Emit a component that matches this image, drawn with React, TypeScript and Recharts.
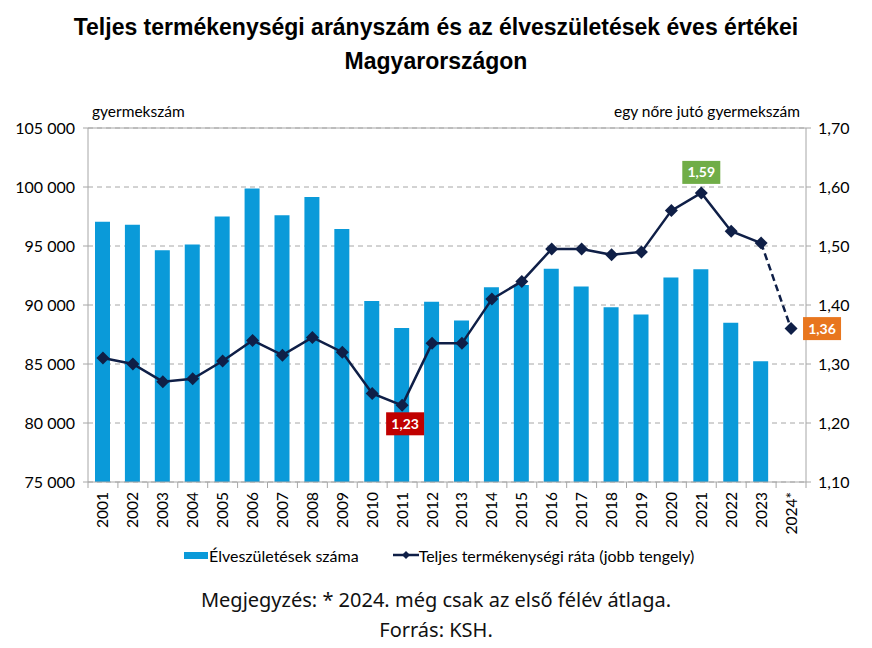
import React from "react";
import {
  ComposedChart,
  Bar,
  Line,
  XAxis,
  YAxis,
  CartesianGrid,
  ReferenceLine,
} from "recharts";

// years on the x axis (2024 = first half-year average only)
const years = [
  "2001", "2002", "2003", "2004", "2005", "2006", "2007", "2008", "2009", "2010",
  "2011", "2012", "2013", "2014", "2015", "2016", "2017", "2018", "2019", "2020",
  "2021", "2022", "2023", "2024*",
];

// live births per year (left axis)
const births = [
  97047, 96804, 94647, 95137, 97496, 99871, 97613, 99149, 96442, 90335,
  88049, 90269, 88689, 91510, 91690, 93063, 91577, 89807, 89193, 92338,
  93039, 88491, 85226, null,
];

// total fertility rate (right axis)
const tfr = [
  1.31, 1.3, 1.27, 1.275, 1.305, 1.34, 1.315, 1.345, 1.32, 1.25,
  1.23, 1.335, 1.335, 1.41, 1.44, 1.495, 1.495, 1.485, 1.49, 1.56,
  1.59, 1.525, 1.505, 1.36,
];

const leftTicks = [75000, 80000, 85000, 90000, 95000, 100000, 105000];
const rightTicks = [1.1, 1.2, 1.3, 1.4, 1.5, 1.6, 1.7];

// highlighted values
const callouts: Record<string, { text: string; color: string }> = {
  "2011": { text: "1,23", color: "#C00000" },
  "2021": { text: "1,59", color: "#70AD47" },
  "2024*": { text: "1,36", color: "#E8761E" },
};

const lastSolid = years.length - 2;

const data = years.map((year, i) => ({
  year,
  births: births[i],
  tfrSolid: i <= lastSolid ? tfr[i] : null,
  tfrDashed: i >= lastSolid ? tfr[i] : null,
}));

const PLOT_LEFT = 88;
const PLOT_RIGHT = 806;
const STEP = (PLOT_RIGHT - PLOT_LEFT) / years.length;

const NAVY = "#0F1F47";
const BLUE = "#0A9AD9";
const GRID = "#A6A6A6";
const FONT = "Lato, 'Open Sans', sans-serif";

const fmtLeft = (v: number) =>
  v.toString().replace(/\B(?=(\d{3})+(?!\d))/g, " ");
const fmtRight = (v: number) => v.toFixed(2).replace(".", ",");

const Diamond = (cx: number, cy: number, key: string) => (
  <path
    key={key}
    d={`M${cx},${cy - 6.5} L${cx + 6.5},${cy} L${cx},${cy + 6.5} L${cx - 6.5},${cy} Z`}
    fill={NAVY}
  />
);

const Callout = (cx: number, cy: number, year: string) => {
  const c = callouts[year];
  if (!c) return null;
  const w = 38;
  const h = 23;
  let x = cx - w / 2;
  let y = cy - 9 - h;
  if (year === "2011") {
    x = cx + 3 - w / 2;
    y = cy + 7;
  } else if (year === "2024*") {
    x = cx + 12;
    y = cy - h / 2;
  }
  return (
    <g key={`c-${year}`}>
      <rect x={x} y={y} width={w} height={h} fill={c.color} />
      <text
        x={x + w / 2}
        y={y + h / 2 + 5}
        textAnchor="middle"
        fill="#fff"
        fontWeight="bold"
        fontSize={14}
        fontFamily={FONT}
      >
        {c.text}
      </text>
    </g>
  );
};

const renderDot = (dashed: boolean) => (props: any) => {
  const { cx, cy, payload, index } = props;
  if (cx == null || cy == null) return <g key={`d-${dashed}-${index}`} />;
  if (dashed && payload.year !== "2024*") return <g key={`d-${dashed}-${index}`} />;
  return (
    <g key={`d-${dashed}-${index}`}>
      {Diamond(cx, cy, "p")}
      {Callout(cx, cy, payload.year)}
    </g>
  );
};

const YearTick = (props: any) => {
  const { x, y, payload, index } = props;
  return (
    <g>
      <line x1={x - STEP / 2} x2={x - STEP / 2} y1={y - 8} y2={y - 2} stroke={GRID} />
      {index === years.length - 1 && (
        <line x1={x + STEP / 2} x2={x + STEP / 2} y1={y - 8} y2={y - 2} stroke={GRID} />
      )}
      <text
        x={x + 5.5}
        y={y + 2}
        transform={`rotate(-90, ${x + 5.5}, ${y + 2})`}
        textAnchor="end"
        fontSize={15.5}
        fontFamily={FONT}
        fill="#000"
      >
        {payload.value}
      </text>
    </g>
  );
};

const abs = (style: React.CSSProperties): React.CSSProperties => ({
  position: "absolute",
  ...style,
});

export default function App() {
  return (
    <div
      style={{
        position: "absolute",
        left: 0,
        top: 0,
        width: 872,
        height: 648,
        background: "#fff",
        fontFamily: FONT,
      }}
    >
      <div
        style={abs({
          left: 0,
          top: 10,
          width: 872,
          textAlign: "center",
          fontFamily: "'Liberation Sans', Arial, sans-serif",
          fontWeight: "bold",
          fontSize: 23,
          lineHeight: "34px",
          color: "#000",
        })}
      >
        Teljes termékenységi arányszám és az élveszületések éves értékei
        <br />
        Magyarországon
      </div>

      <div style={abs({ left: 92, top: 102, fontSize: 15.5, color: "#000" })}>
        gyermekszám
      </div>
      <div style={abs({ right: 72, top: 102, fontSize: 15.5, color: "#000" })}>
        egy nőre jutó gyermekszám
      </div>

      <div style={abs({ left: 0, top: 0 })}>
        <ComposedChart
          width={872}
          height={648}
          data={data}
          margin={{ top: 128, right: 6, left: 18, bottom: 116 }}
        >
          <CartesianGrid
            yAxisId="left"
            vertical={false}
            stroke={GRID}
            strokeDasharray="5 4"
          />
          <XAxis
            dataKey="year"
            interval={0}
            height={50}
            tick={<YearTick />}
            tickLine={false}
            axisLine={{ stroke: GRID }}
          />
          <YAxis
            yAxisId="left"
            width={70}
            domain={[75000, 105000]}
            ticks={leftTicks}
            tickFormatter={fmtLeft}
            tick={{ fontSize: 16, fill: "#000", fontFamily: FONT }}
            tickLine={{ stroke: GRID }}
            tickSize={5}
            tickMargin={8}
            axisLine={{ stroke: GRID }}
            allowDataOverflow
          />
          <YAxis
            yAxisId="right"
            orientation="right"
            width={60}
            domain={[1.1, 1.7]}
            ticks={rightTicks}
            tickFormatter={fmtRight}
            tick={{ fontSize: 16, fill: "#000", fontFamily: FONT }}
            tickLine={{ stroke: GRID }}
            tickSize={5}
            tickMargin={7}
            axisLine={{ stroke: GRID }}
            allowDataOverflow
          />
          <ReferenceLine yAxisId="left" y={105000} stroke={GRID} />
          <Bar
            yAxisId="left"
            dataKey="births"
            fill={BLUE}
            barSize={15}
            isAnimationActive={false}
          />
          <Line
            yAxisId="right"
            dataKey="tfrSolid"
            stroke={NAVY}
            strokeWidth={2.5}
            dot={renderDot(false)}
            activeDot={false}
            isAnimationActive={false}
          />
          <Line
            yAxisId="right"
            dataKey="tfrDashed"
            stroke={NAVY}
            strokeWidth={2.5}
            strokeDasharray="7 4"
            dot={renderDot(true)}
            activeDot={false}
            isAnimationActive={false}
          />
        </ComposedChart>
      </div>

      <div
        style={abs({
          left: 184,
          top: 545,
          height: 20,
          display: "flex",
          alignItems: "center",
          fontSize: 16,
          color: "#000",
          whiteSpace: "nowrap",
        })}
      >
        <span style={{ width: 24, height: 7, background: BLUE, marginRight: 1 }} />
        <span>Élveszületések száma</span>
        <svg width={26} height={10} style={{ marginLeft: 34, marginRight: 0 }}>
          <line x1={0} x2={26} y1={5} y2={5} stroke={NAVY} strokeWidth={2.5} />
          <path d="M13,1 L17,5 L13,9 L9,5 Z" fill={NAVY} />
        </svg>
        <span>Teljes termékenységi ráta (jobb tengely)</span>
      </div>

      <div
        style={abs({
          left: 0,
          top: 585,
          width: 872,
          textAlign: "center",
          fontFamily: "'Noto Sans', sans-serif",
          fontSize: 20,
          lineHeight: "30px",
          color: "#111",
        })}
      >
        Megjegyzés: * 2024. még csak az első félév átlaga.
        <br />
        Forrás: KSH.
      </div>
    </div>
  );
}
